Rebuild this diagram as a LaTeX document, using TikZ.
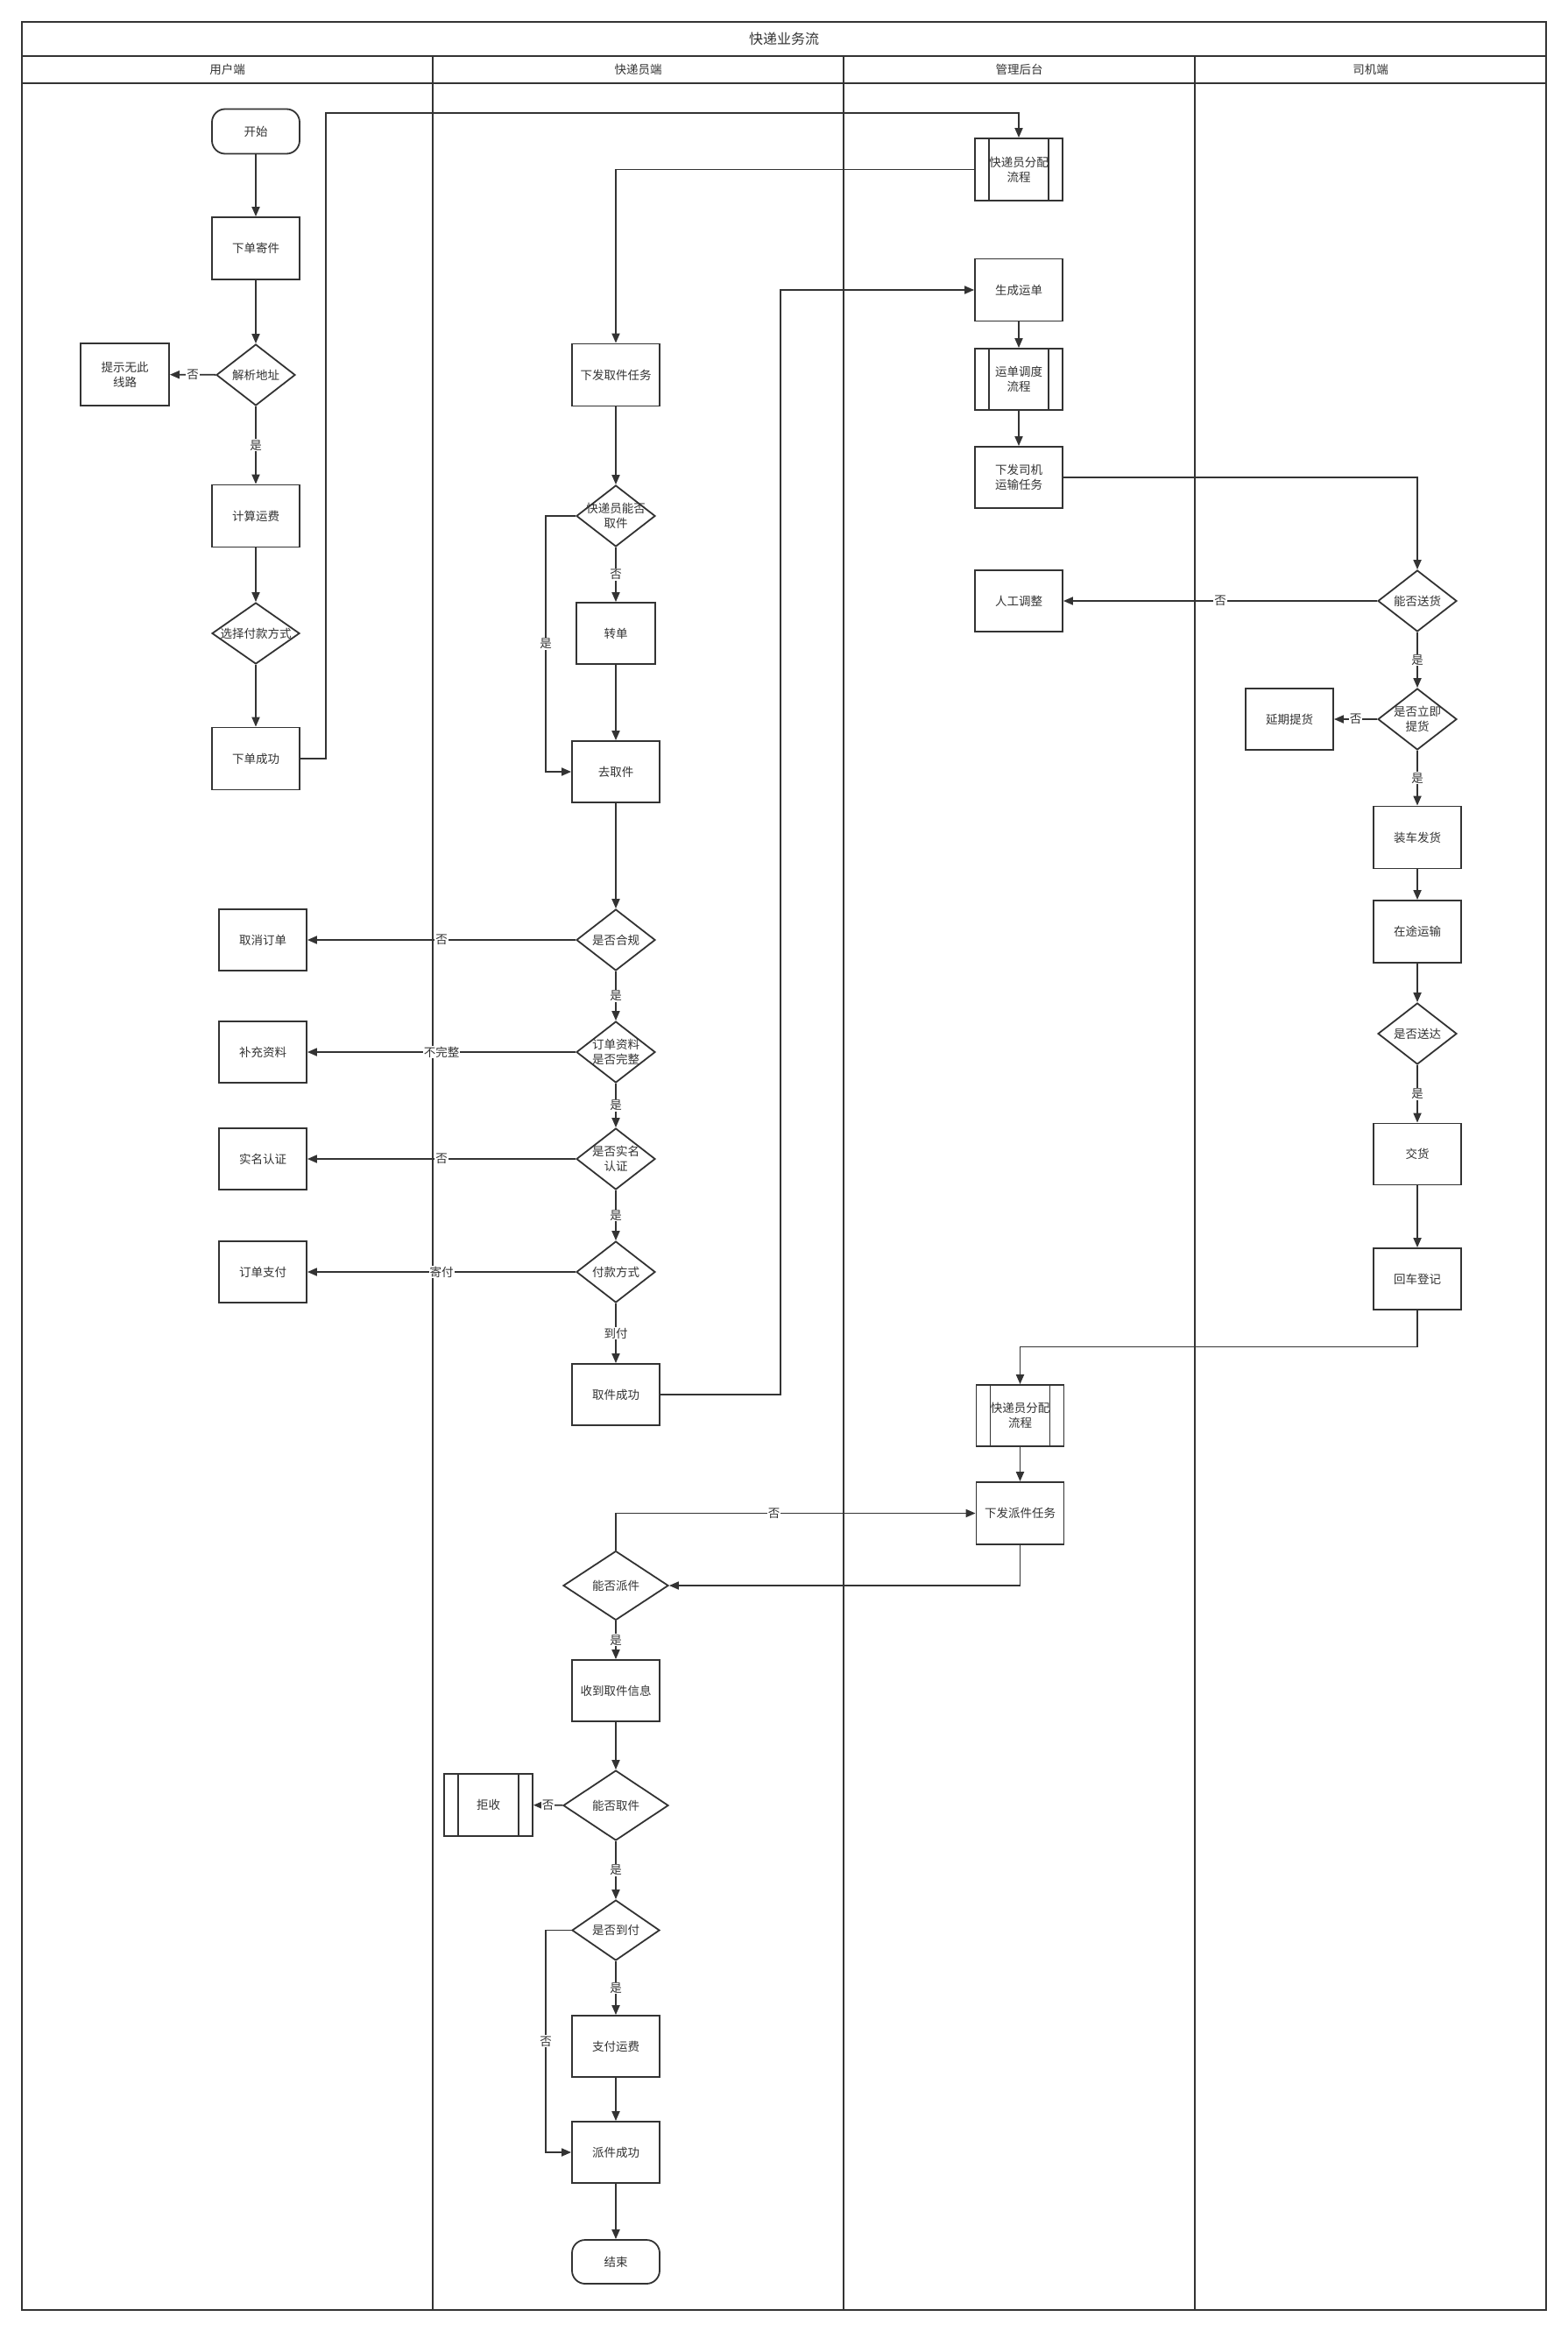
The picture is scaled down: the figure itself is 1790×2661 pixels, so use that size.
\documentclass[tikz,border=0pt]{standalone}
\usepackage{fontspec}
\setmainfont{Noto Sans CJK SC}
\usetikzlibrary{shapes.geometric,arrows.meta}
\definecolor{ln}{HTML}{333333}
\newcommand{\fs}{\fontsize{13.5}{17}\selectfont}
\newcommand{\ftitle}{\fontsize{16}{19}\selectfont}
\begin{document}
\begin{tikzpicture}[x=1pt,y=-1pt,
  base/.style={draw=ln, line width=1.8pt, fill=white, text=ln, font=\fs, align=center, inner sep=2pt},
  box/.style={base, rectangle, minimum width=100pt, minimum height=71pt},
  term/.style={base, rectangle, rounded corners=15pt, minimum width=100pt, minimum height=51pt},
  dia/.style={base, diamond, minimum width=90pt, minimum height=70pt, inner sep=0pt},
  dtxt/.style={text=ln, font=\fs, align=center, inner sep=0pt},
  proc/.style={box, path picture={\draw[draw=ln, line width=1.8pt]
     ([xshift=16pt]path picture bounding box.north west) -- ([xshift=16pt]path picture bounding box.south west)
     ([xshift=-16pt]path picture bounding box.north east) -- ([xshift=-16pt]path picture bounding box.south east);}},
  arr/.style={draw=ln, line width=1.8pt, -{Triangle[length=11pt,width=9pt]}},
  lbl/.style={fill=white, text=ln, font=\fs, inner sep=1pt},
  frame/.style={draw=ln, line width=2pt},
  head/.style={text=ln, font=\fs, inner sep=0pt}
]
\useasboundingbox (0,0) rectangle (1790,2661);
\fill[white] (0,0) rectangle (1790,2661);

% frame and lanes
\draw[frame] (25,25) rectangle (1765,2637);
\draw[frame] (25,64) -- (1765,64);
\draw[frame] (25,94.5) -- (1765,94.5);
\draw[frame] (494,64) -- (494,2637);
\draw[frame] (963,64) -- (963,2637);
\draw[frame] (1364,64) -- (1364,2637);
\node[head, font=\ftitle] (title) at (895,44.5) {快递业务流};
\node[head] (h1) at (259.5,79.5) {用户端};
\node[head] (h2) at (728.5,79.5) {快递员端};
\node[head] (h3) at (1163.5,79.5) {管理后台};
\node[head] (h4) at (1564.5,79.5) {司机端};

% lane 1
\node[term] (start) at (292,150) {开始};
\node[box] (xiadan) at (292,283.5) {下单寄件};
\node[dia, label={[dtxt]center:解析地址}] (jiexi) at (292,428) {};
\node[box, minimum width=101pt] (tishi) at (142.5,427.5) {提示无此\\线路};
\node[box] (jisuan) at (292,589) {计算运费};
\node[dia, minimum width=100pt, label={[dtxt]center:选择付款方式}] (xuanze) at (292,723) {};
\node[box] (chenggong) at (292,866) {下单成功};
\node[box, minimum height=70pt] (quxiao) at (300,1073) {取消订单};
\node[box, minimum height=70pt] (buchong) at (300,1201) {补充资料};
\node[box, minimum height=70pt] (shiming) at (300,1323) {实名认证};
\node[box, minimum height=70pt] (zhifu) at (300,1452) {订单支付};

% lane 2
\node[box] (xiafa) at (703,428) {下发取件任务};
\node[dia, label={[dtxt]center:快递员能否\\取件}] (nengfou) at (703,589) {};
\node[box, minimum width=90pt, minimum height=70pt] (zhuandan) at (703,723) {转单};
\node[box, minimum height=70pt] (qujian) at (703,881) {去取件};
\node[dia, label={[dtxt]center:是否合规}] (hegui) at (703,1073) {};
\node[dia, label={[dtxt]center:订单资料\\是否完整}] (ziliao) at (703,1201) {};
\node[dia, label={[dtxt]center:是否实名\\认证}] (smrz) at (703,1323) {};
\node[dia, label={[dtxt]center:付款方式}] (fkfs) at (703,1452) {};
\node[box, minimum height=70pt] (qjcg) at (703,1592) {取件成功};
\node[dia, minimum width=120pt, minimum height=79pt, label={[dtxt]center:能否派件}] (nfpj) at (703,1810) {};
\node[box, minimum height=70pt] (sdqj) at (703,1930) {收到取件信息};
\node[dia, minimum width=120pt, minimum height=80pt, label={[dtxt]center:能否取件}] (nfqj) at (703,2061) {};
\node[proc, minimum width=101pt] (jushou) at (557.5,2060.5) {拒收};
\node[dia, minimum width=100pt, minimum height=69pt, label={[dtxt]center:是否到付}] (sfdf) at (703,2203.5) {};
\node[box, minimum height=70pt] (zfyf) at (703,2336) {支付运费};
\node[box, minimum height=70pt] (pjcg) at (703,2457) {派件成功};
\node[term, minimum height=50pt] (jieshu) at (703,2582) {结束};

% lane 3
\node[proc] (fp1) at (1163,193.5) {快递员分配\\流程};
\node[box] (scyd) at (1163,331) {生成运单};
\node[proc, minimum height=70pt] (ydtd) at (1163,433) {运单调度\\流程};
\node[box, minimum height=70pt] (xfsj) at (1163,545) {下发司机\\运输任务};
\node[box, minimum height=70pt] (rgtz) at (1163,686) {人工调整};
\node[proc, minimum height=70pt] (fp2) at (1164.5,1616) {快递员分配\\流程};
\node[box] (xfpj) at (1164.5,1727.5) {下发派件任务};

% lane 4
\node[dia, label={[dtxt]center:能否送货}] (nfsh) at (1618,686) {};
\node[dia, label={[dtxt]center:是否立即\\提货}] (sflj) at (1618,821) {};
\node[box, minimum height=70pt] (yqth) at (1472,821) {延期提货};
\node[box] (zcfh) at (1618,956) {装车发货};
\node[box] (ztys) at (1618,1063.5) {在途运输};
\node[dia, label={[dtxt]center:是否送达}] (sfsd) at (1618,1180) {};
\node[box, minimum height=70pt] (jh) at (1618,1317.5) {交货};
\node[box, minimum height=70pt] (hcdj) at (1618,1460) {回车登记};

% connectors lane 1
\draw[arr] (start) -- (xiadan);
\draw[arr] (xiadan) -- (jiexi);
\draw[arr] (jiexi) -- node[lbl]{否} (tishi);
\draw[arr] (jiexi) -- node[lbl]{是} (jisuan);
\draw[arr] (jisuan) -- (xuanze);
\draw[arr] (xuanze) -- (chenggong);
\draw[arr] (chenggong.east) -- (372,866) -- (372,128.6) -- (1163,128.6) -- (fp1.north);
\draw[arr] (fp1.west) -- (703,193.5) -- (xiafa.north);

% connectors lane 2
\draw[arr] (xiafa) -- (nengfou);
\draw[arr] (nengfou) -- node[lbl]{否} (zhuandan);
\draw[arr] (nengfou.west) -- (623,589) -- node[lbl]{是} (623,881) -- (qujian.west);
\draw[arr] (zhuandan) -- (qujian);
\draw[arr] (qujian) -- (hegui);
\draw[arr] (hegui) -- node[lbl]{否} (quxiao);
\draw[arr] (hegui) -- node[lbl]{是} (ziliao);
\draw[arr] (ziliao) -- node[lbl]{不完整} (buchong);
\draw[arr] (ziliao) -- node[lbl]{是} (smrz);
\draw[arr] (smrz) -- node[lbl]{否} (shiming);
\draw[arr] (smrz) -- node[lbl]{是} (fkfs);
\draw[arr] (fkfs) -- node[lbl]{寄付} (zhifu);
\draw[arr] (fkfs) -- node[lbl]{到付} (qjcg);
\draw[arr] (qjcg.east) -- (891,1592) -- (891,331) -- (scyd.west);

% connectors lane 3 / 4
\draw[arr] (scyd) -- (ydtd);
\draw[arr] (ydtd) -- (xfsj);
\draw[arr] (xfsj.east) -| (nfsh.north);
\draw[arr] (nfsh) -- node[lbl]{否} (rgtz);
\draw[arr] (nfsh) -- node[lbl]{是} (sflj);
\draw[arr] (sflj) -- node[lbl]{否} (yqth);
\draw[arr] (sflj) -- node[lbl]{是} (zcfh);
\draw[arr] (zcfh) -- (ztys);
\draw[arr] (ztys) -- (sfsd);
\draw[arr] (sfsd) -- node[lbl]{是} (jh);
\draw[arr] (jh) -- (hcdj);
\draw[arr] (hcdj.south) -- (1618,1537.4) -- (1164.5,1537.4) -- (fp2.north);
\draw[arr] (fp2) -- (xfpj);
\draw[arr] (xfpj.south) |- (nfpj.east);
\draw[arr] (nfpj.north) |- node[lbl, pos=0.72]{否} (xfpj.west);

% delivery
\draw[arr] (nfpj) -- node[lbl]{是} (sdqj);
\draw[arr] (sdqj) -- (nfqj);
\draw[arr] (nfqj) -- node[lbl]{否} (jushou);
\draw[arr] (nfqj) -- node[lbl]{是} (sfdf);
\draw[arr] (sfdf) -- node[lbl]{是} (zfyf);
\draw[arr] (sfdf.west) -- (623,2203.5) -- node[lbl]{否} (623,2457) -- (pjcg.west);
\draw[arr] (zfyf) -- (pjcg);
\draw[arr] (pjcg) -- (jieshu);
\end{tikzpicture}
\end{document}
